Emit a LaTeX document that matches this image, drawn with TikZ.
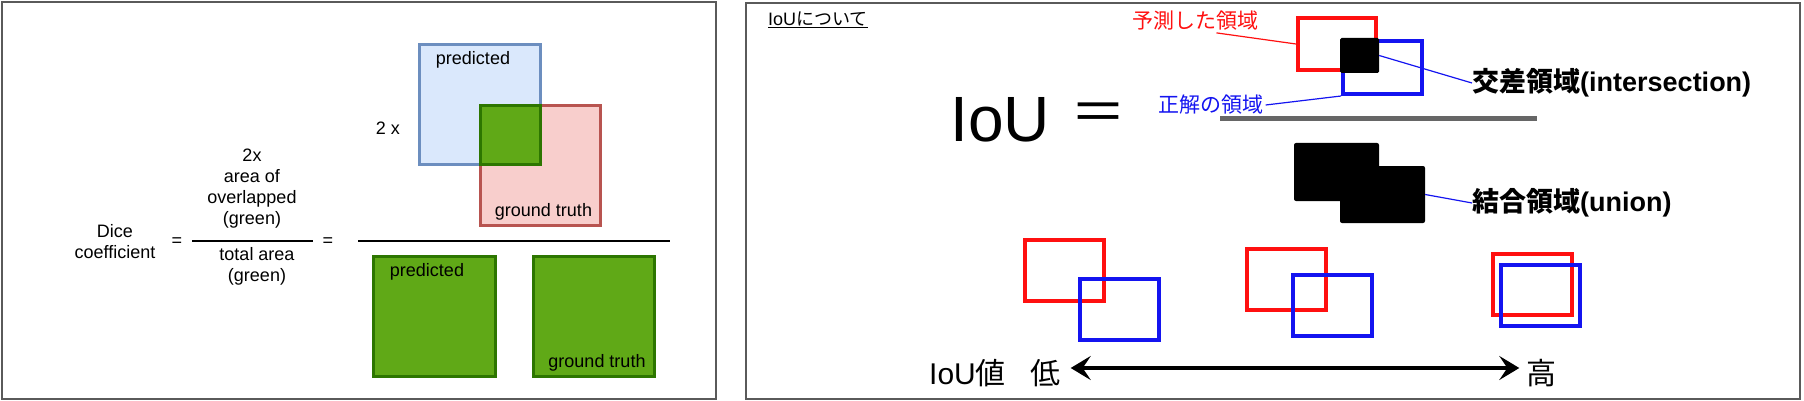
\documentclass[tikz,border=0pt]{standalone}
\usepackage{fontspec}
\setmainfont{Liberation Sans}
\newfontfamily\jpfont{Noto Sans CJK JP}
\usepackage{tikz}
\usetikzlibrary{arrows.meta,positioning}

\definecolor{dioblue}{HTML}{DAE8FC}
\definecolor{diobluedark}{HTML}{6C8EBF}
\definecolor{diored}{HTML}{F8CECC}
\definecolor{dioreddark}{HTML}{B85450}
\definecolor{diogreen}{HTML}{60A917}
\definecolor{diogreendark}{HTML}{2D7600}
\definecolor{framegray}{HTML}{5A5A5A}
\definecolor{iouRed}{HTML}{FF1010}
\definecolor{iouBlue}{HTML}{1414F0}

\begin{document}
\begin{tikzpicture}[x=1pt, y=-1pt,
    txt/.style={font=\fontsize{18}{21}\selectfont, inner sep=0pt, align=center},
    panel/.style={draw=framegray, line width=2pt},
    sq/.style={line width=3pt, inner sep=0pt},
    predsq/.style={sq, draw=diobluedark, fill=dioblue},
    gtsq/.style={sq, draw=dioreddark, fill=diored},
    greensq/.style={sq, draw=diogreendark, fill=diogreen},
    fracline/.style={line width=2pt},
    redbox/.style={draw=iouRed, line width=4pt, inner sep=0pt},
    bluebox/.style={draw=iouBlue, line width=4pt, inner sep=0pt},
    pairbox/.style={minimum width=79pt, minimum height=61pt},
    blackbox/.style={fill=black, rounded corners=2pt, inner sep=0pt},
    jplbl/.style={font=\jpfont\fontsize{21}{24}\selectfont, inner sep=2pt},
    biglbl/.style={font=\fontsize{27}{30}\selectfont, inner sep=0pt, anchor=west},
    leader/.style={line width=1.2pt},
    dblarrow/.style={{Stealth[length=20pt,width=24pt,inset=8pt]}-{Stealth[length=20pt,width=24pt,inset=8pt]}, line width=3.5pt},
    every node/.style={font=\fontsize{18}{21}\selectfont}
]
\useasboundingbox (0,0) rectangle (1804,401);

% Dice panel
\draw[panel] (2,2) rectangle (716,399);

\node[txt] (dice) at (115,242) {Dice\\coefficient};
\node[txt] (eqA) at (177,242) {=};
\node[txt] (num) at (252,189) {2x\\area of\\overlapped\\(green)};
\node[txt] (den) at (257,266) {total area\\(green)};
\node[txt] (eqB) at (328,242) {=};
\draw[fracline] (192,241) -- (313,241);

% Numerator: overlapping boxes
\node[predsq, minimum width=121pt, minimum height=120pt] (predA) at (480,104.5) {};
\node[gtsq, minimum width=120pt, minimum height=120pt] (gtA) at (540.5,165.5) {};
\node[greensq, minimum width=60pt, minimum height=59pt] (overlap) at (510.5,135) {};
\node[txt] (predAlbl) at (473,60) {predicted};
\node[txt] (gtAlbl) at (543.5,212) {ground truth};
\node[txt] (twox) at (388,128) {2 x};

\draw[fracline] (358,241) -- (670,241);

% Denominator: both boxes
\node[greensq, minimum width=122pt, minimum height=120pt] (predB) at (434.5,316.5) {};
\node[greensq, minimum width=121pt, minimum height=120pt] (gtB) at (594,316.5) {};
\node[txt] (predBlbl) at (427,272) {predicted};
\node[txt] (gtBlbl) at (597,363) {ground truth};

% IoU panel
\draw[panel] (746,3) rectangle (1800,399);
\node[inner sep=0pt, anchor=west] (title) at (768,20) {\underline{IoU{\jpfont について}}};

\node[font=\fontsize{64}{70}\selectfont, inner sep=0pt] (iou) at (1000,120) {IoU};
\node[font=\jpfont\fontsize{56}{60}\selectfont, inner sep=0pt] (eqC) at (1098,118) {＝};

% Numerator: intersection
\node[redbox, minimum width=78pt, minimum height=52pt] (predC) at (1337,44) {};
\node[bluebox, minimum width=79pt, minimum height=53pt] (truthC) at (1382.5,67.5) {};
\node[blackbox, rounded corners=1.5pt, minimum width=39pt, minimum height=35pt] (inter) at (1359.5,55.5) {};

\node[jplbl, text=iouRed] (predlbl) at (1195,21) {予測した領域};
\node[jplbl, text=iouBlue] (truthlbl) at (1211,105) {正解の領域};
\node[biglbl] (interlbl) at (1472,83) {{\jpfont\bfseries 交差領域}\textbf{(intersection)}};

\draw[leader, iouRed] (predlbl.-29) -- (predC.west);
\draw[leader, iouBlue] (truthlbl.east) -- (truthC.south west);
\draw[leader, iouBlue] (inter.east) -- (interlbl.west);

\draw[line width=5pt, black!60] (1220,119) -- (1537,119);

% Denominator: union
\node[blackbox, minimum width=85pt, minimum height=58pt] (unionA) at (1336.5,172) {};
\node[blackbox, minimum width=85pt, minimum height=57pt] (unionB) at (1382.5,194.5) {};
\node[biglbl] (unionlbl) at (1472,203) {{\jpfont\bfseries 結合領域}\textbf{(union)}};
\draw[leader, iouBlue] (unionB.east) -- (unionlbl.west);

% Examples from low to high IoU
\node[redbox, pairbox] (lowR) at (1064.5,270) {};
\node[bluebox, pairbox] (lowB) at (1119.5,309.5) {};
\node[redbox, pairbox] (midR) at (1286.5,279.5) {};
\node[bluebox, pairbox] (midB) at (1332.5,305.5) {};
\node[redbox, pairbox] (highR) at (1532.5,284) {};
\node[bluebox, pairbox] (highB) at (1540.5,295.5) {};

% Scale
\node[font=\fontsize{30}{34}\selectfont, inner sep=0pt] (scale) at (967.5,373) {IoU{\jpfont 値}};
\node[font=\jpfont\fontsize{30}{34}\selectfont, inner sep=2pt] (low) at (1045.5,373) {低};
\node[font=\jpfont\fontsize{30}{34}\selectfont, inner sep=2pt] (high) at (1541.5,373) {高};
\draw[dblarrow, shorten <=8pt, shorten >=5pt] ([yshift=5pt]low.east) -- ([yshift=5pt]high.west);

\end{tikzpicture}
\end{document}
